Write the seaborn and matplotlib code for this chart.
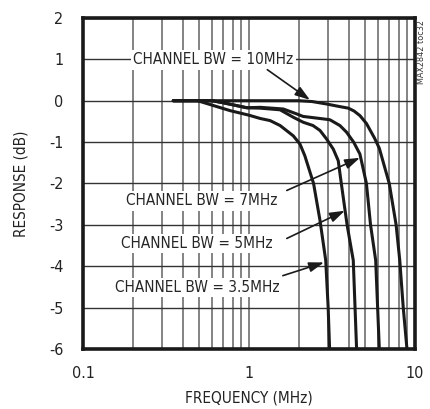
import numpy as np
import pandas as pd
import matplotlib
matplotlib.use("Agg")
import matplotlib.pyplot as plt
import seaborn as sns
from matplotlib.ticker import FixedLocator, NullFormatter, FixedFormatter

# Data (frequency in MHz, response in dB)
freq_35 = [0.35, 0.49, 0.77, 1.0, 1.17, 1.34, 1.54, 1.85, 2.03, 2.17, 2.45, 2.68, 2.9, 3.0, 3.06]
resp_35 = [0, 0, -0.24, -0.35, -0.43, -0.48, -0.6, -0.85, -1.05, -1.33, -2.0, -2.9, -3.86, -5.0, -6.0]

freq_5 = [0.35, 0.6, 0.7, 0.97, 1.17, 1.54, 1.85, 2.12, 2.43, 2.68, 2.94, 3.22, 3.45, 3.6, 3.9, 4.25, 4.45]
resp_5 = [0, 0, -0.05, -0.17, -0.18, -0.22, -0.4, -0.52, -0.6, -0.72, -0.93, -1.17, -1.45, -2.0, -3.0, -3.86, -6.0]

freq_7 = [0.35, 0.6, 0.7, 0.97, 1.17, 1.61, 1.94, 2.12, 2.68, 3.07, 3.53, 3.87, 4.27, 4.66, 5.1, 5.4, 5.8, 6.1]
resp_7 = [0, 0, -0.05, -0.17, -0.16, -0.2, -0.32, -0.38, -0.43, -0.46, -0.6, -0.76, -1.0, -1.29, -2.0, -3.0, -3.86, -6.0]

freq_10 = [0.35, 2.0, 2.4, 2.94, 3.5, 3.97, 4.3, 4.66, 5.1, 5.7, 6.1, 7.0, 7.7, 8.1, 8.5, 8.95]
resp_10 = [0, 0, -0.02, -0.08, -0.14, -0.18, -0.25, -0.36, -0.55, -0.9, -1.15, -2.0, -3.0, -3.86, -5.0, -6.0]

labels = ["CHANNEL BW = 10MHz", "CHANNEL BW = 7MHz", "CHANNEL BW = 5MHz", "CHANNEL BW = 3.5MHz"]

sns.set_style("white")
plt.rcParams['font.family'] = ['DejaVu Sans']
plt.rcParams['font.stretch'] = 'condensed'
plt.rcParams['axes.unicode_minus'] = False

fig = plt.figure(figsize=(4.3, 4.09), dpi=100)
ax = fig.add_axes([0.193, 0.147, 0.772, 0.809])

for f, r in [(freq_35, resp_35), (freq_5, resp_5), (freq_7, resp_7), (freq_10, resp_10)]:
    sns.lineplot(x=f, y=r, color="#1a1a1a", lw=2.2, sort=False, estimator=None, ax=ax, zorder=5)

ax.set_xscale("log")
ax.set_xlim(0.1, 10)
ax.set_ylim(-6, 2)

ax.xaxis.set_major_locator(FixedLocator([0.1, 1, 10]))
ax.xaxis.set_major_formatter(FixedFormatter(["0.1", "1", "10"]))
ax.xaxis.set_minor_formatter(NullFormatter())
ax.set_yticks(range(-6, 3))

ax.grid(True, which="both", axis="x", color="#7a7a7a", lw=1.3)
ax.grid(True, which="major", axis="y", color="#333333", lw=1.0)
ax.tick_params(which="both", length=0)
ax.tick_params(axis="y", pad=14, labelsize=11.5, colors="#222222")
ax.tick_params(axis="x", pad=12, labelsize=11.5, colors="#222222")

for s in ax.spines.values():
    s.set_color("#1a1a1a")
    s.set_linewidth(2.6)

ax.set_xlabel("FREQUENCY (MHz)", fontsize=11, color="#222222", labelpad=7)
ax.set_ylabel("RESPONSE (dB)", fontsize=11, color="#222222", labelpad=15)

box = dict(boxstyle="square,pad=0.15", fc="white", ec="none")
arrow = dict(arrowstyle="-|>,head_length=0.9,head_width=0.3", color="#1a1a1a", lw=1.2, shrinkA=0, shrinkB=0)
fs = 11

ax.text(0.61, 0.99, labels[0], fontsize=fs, ha="center", va="center", bbox=box, zorder=6)
ax.annotate("", xy=(2.33, 0.02), xytext=(1.29, 0.75), arrowprops=arrow, zorder=6)

ax.text(0.52, -2.42, labels[1], fontsize=fs, ha="center", va="center", bbox=box, zorder=6)
ax.annotate("", xy=(4.66, -1.38), xytext=(1.69, -2.17), arrowprops=arrow, zorder=6)

ax.text(0.486, -3.45, labels[2], fontsize=fs, ha="center", va="center", bbox=box, zorder=6)
ax.annotate("", xy=(3.78, -2.66), xytext=(1.69, -3.33), arrowprops=arrow, zorder=6)

ax.text(0.486, -4.52, labels[3], fontsize=fs, ha="center", va="center", bbox=box, zorder=6)
ax.annotate("", xy=(2.83, -3.91), xytext=(1.6, -4.23), arrowprops=arrow, zorder=6)

fig.text(0.981, 0.873, "MAX2842 toc32", rotation=90, fontsize=6.5, ha="center", va="center", color="#333333")

fig.savefig("out.png", dpi=100)
